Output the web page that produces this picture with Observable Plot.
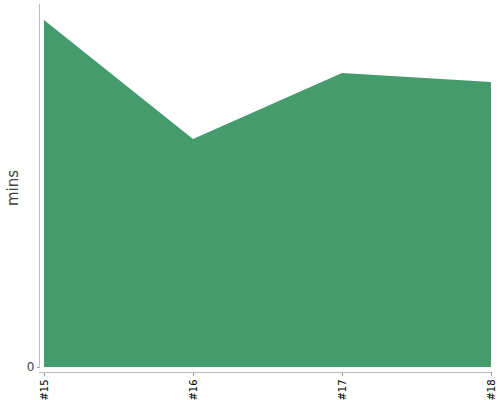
<!DOCTYPE html>
<html>
<head>
<meta charset="utf-8">
<script src="https://cdn.jsdelivr.net/npm/d3@7"></script>
<script src="https://cdn.jsdelivr.net/npm/@observablehq/plot@0.6"></script>
<style>
  html, body { margin: 0; padding: 0; background: #fff; }
  #chart svg { display: block; font-family: "DejaVu Sans", sans-serif; }
</style>
</head>
<body>
<div id="chart"></div>
<script>
const categories = ["#15", "#16", "#17", "#18"];
const mins = [34.7, 22.8, 29.4, 28.5];
const yMax = 36.3;
const yTicks = [0];

const data = categories.map((c, i) => ({ build: c, mins: mins[i] }));

const W = 500, H = 400;
const marginLeft = 40, marginRight = 9, marginTop = 4, marginBottom = 28;

const chart = Plot.plot({
  width: W,
  height: H,
  marginLeft, marginRight, marginTop, marginBottom,
  insetLeft: 3,
  insetBottom: 5,
  style: { fontFamily: "DejaVu Sans, sans-serif", background: "#fff" },
  x: { type: "point", domain: categories, padding: 0 },
  y: { domain: [0, yMax] },
  marks: [
    Plot.areaY(data, { x: "build", y: "mins", fill: "#449b6c", curve: "linear" }),
    Plot.axisX({
      tickRotate: -90, tickSize: 4, tickPadding: 3, fontSize: 10, fill: "#000",
      stroke: "#999", label: null
    }),
    Plot.axisY(yTicks, {
      tickSize: 3, tickPadding: 3, fontSize: 12, fill: "#444", stroke: "#999",
      label: null
    })
  ]
});

document.getElementById("chart").appendChild(chart);

// axis domain lines
const svg = d3.select(chart);
svg.append("line")
  .attr("x1", marginLeft - 0.5).attr("x2", marginLeft - 0.5)
  .attr("y1", marginTop).attr("y2", H - marginBottom - 4)
  .attr("stroke", "#bbb").attr("stroke-width", 1);
svg.append("line")
  .attr("x1", marginLeft - 1).attr("x2", W - marginRight)
  .attr("y1", H - marginBottom + 0.5).attr("y2", H - marginBottom + 0.5)
  .attr("stroke", "#bbb").attr("stroke-width", 1);
svg.append("text")
  .attr("transform", `translate(18,${(marginTop + H - marginBottom) / 2}) rotate(-90)`)
  .attr("text-anchor", "middle")
  .attr("font-size", 15)
  .attr("fill", "#444")
  .text("mins");
</script>
</body>
</html>
